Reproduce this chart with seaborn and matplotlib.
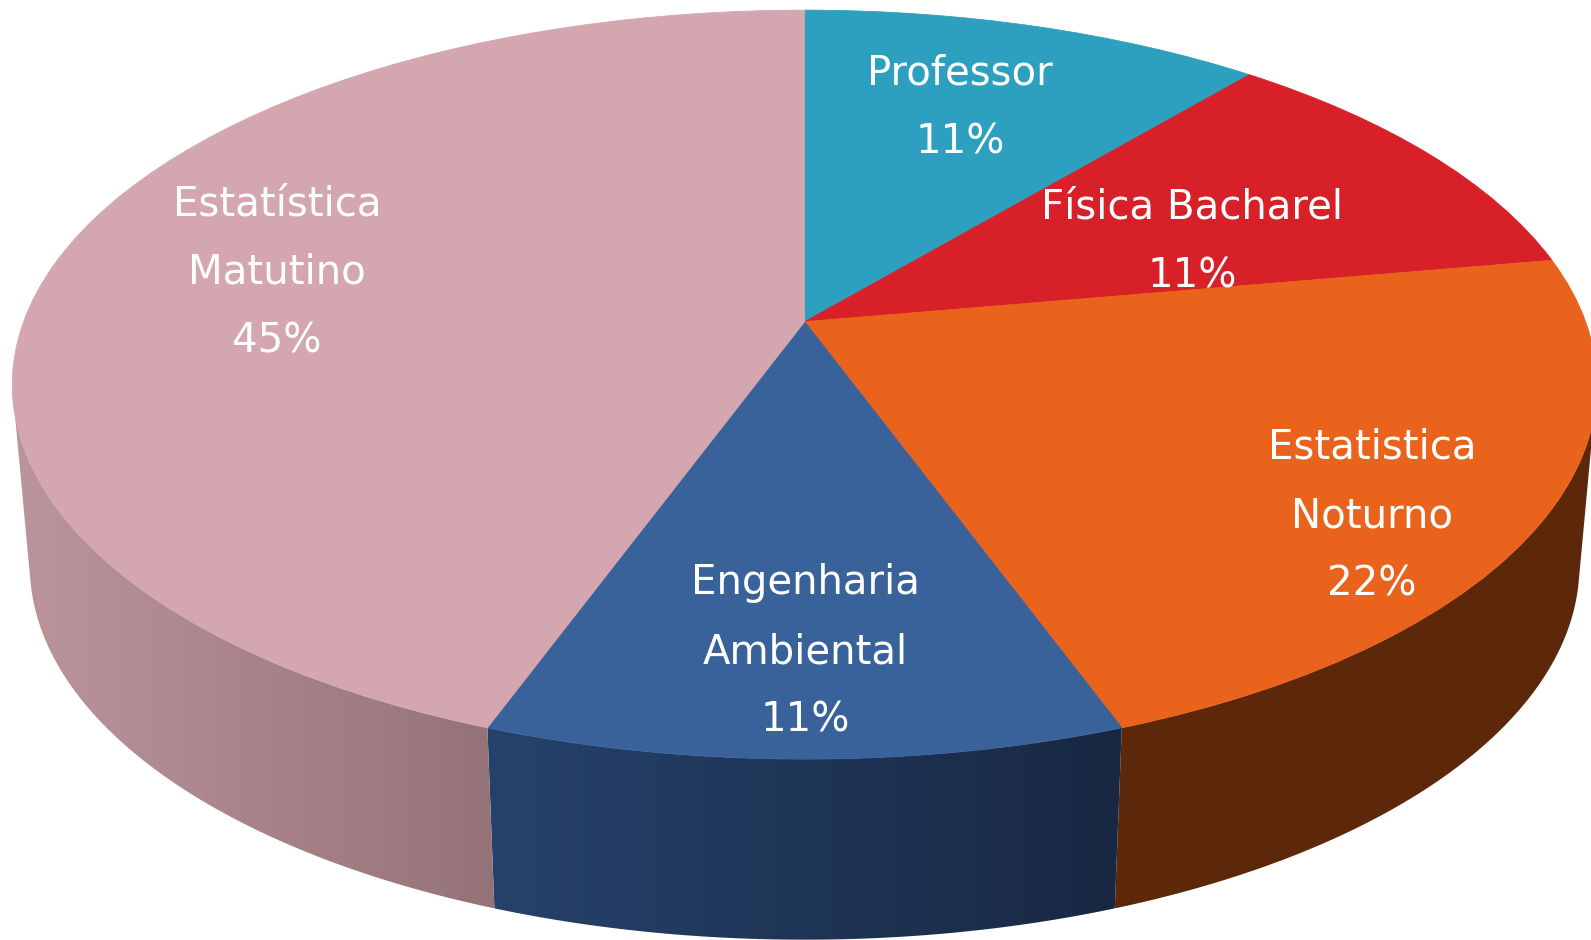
import numpy as np
import matplotlib
matplotlib.use('Agg')
import matplotlib.pyplot as plt
import seaborn as sns
from matplotlib.colors import LinearSegmentedColormap
from matplotlib.patches import Polygon
from matplotlib.transforms import Transform

# Data: head counts behind the printed shares (1/9, 2/9, 4/9)
courses = ['Professor', 'Física Bacharel', 'Estatistica\nNoturno', 'Engenharia\nAmbiental', 'Estatística\nMatutino']
counts = [1, 1, 2, 1, 4]
shares = ['11%', '11%', '22%', '11%', '45%']

top_colors = ['#2DA0BF', '#D82029', '#E9631C', '#39629B', '#D3A6B0']
wall_left = ['#2DA0BF', '#D82029', '#5D280A', '#26426C', '#BC959C']
wall_right = ['#2DA0BF', '#D82029', '#5D280A', '#182842', '#947378']

label_x = [960, 1192, 1372, 805, 277]
label_y = [108, 242, 516, 652, 273]

# Perspective of the disc, in image pixels
W, H = 1591, 940
CX, CY = 804.6, 321.7
A, B, C = 781.0, 363.9, 0.168
DEPTH = 180.6
SHRINK = 0.978
CORNER = 2.5  # degrees of the lower rim hidden behind the straight side edge


def project(xy):
    x, y = xy[:, 0], xy[:, 1]
    d = 1 + C * y
    return np.column_stack([CX + A * x / d, CY - B * y / d])


class DiscTransform(Transform):
    input_dims = output_dims = 2
    is_affine = False

    def transform_non_affine(self, values):
        return project(np.asarray(values, dtype=float))


sns.set_theme(style='white')
fig = plt.figure(figsize=(W / 100, H / 100), dpi=100)
ax = fig.add_axes([0, 0, 1, 1])

wedges, _ = ax.pie(counts, colors=sns.color_palette(top_colors), startangle=90, counterclock=False)
disc = DiscTransform()
for w, col in zip(wedges, top_colors):
    w.set_transform(disc + ax.transData)
    w.set_edgecolor(col)
    w.set_linewidth(0.6)
    w.set_zorder(3)

# Side wall, only the part facing the viewer
limit = np.degrees(np.arccos(-C))  # where the projected circle is widest
for i, w in enumerate(wedges):
    angles = np.linspace(w.theta1, w.theta2, 300)
    clock = (90 - angles) % 360
    keep = (clock >= limit) & (clock <= 360 - limit)
    if not keep.any():
        continue
    edge = project(np.column_stack([np.cos(np.radians(angles[keep])), np.sin(np.radians(angles[keep]))]))
    rim = (clock >= limit + CORNER) & (clock <= 360 - limit - CORNER)
    low = project(np.column_stack([np.cos(np.radians(angles[rim])), np.sin(np.radians(angles[rim]))]))
    low = np.column_stack([CX + SHRINK * (low[:, 0] - CX), low[:, 1] + DEPTH])
    outline = np.vstack([edge, low[::-1]])
    patch = Polygon(outline, closed=True, facecolor='none', edgecolor='none', transform=ax.transData)
    ax.add_patch(patch)
    cmap = LinearSegmentedColormap.from_list('wall%d' % i, [wall_left[i], wall_right[i]])
    im = ax.imshow(np.linspace(0, 1, 256)[None, :], cmap=cmap, aspect='auto', zorder=2, interpolation='bilinear',
                   extent=(outline[:, 0].min(), outline[:, 0].max(), outline[:, 1].max(), outline[:, 1].min()))
    im.set_clip_path(patch)

for name, share, x, y in zip(courses, shares, label_x, label_y):
    ax.text(x, y, name + '\n' + share, color='white', fontsize=29, ha='center', va='center',
            linespacing=1.92, zorder=5, family='DejaVu Sans')

ax.set_xlim(0, W)
ax.set_ylim(H, 0)
ax.set_aspect('auto')
ax.axis('off')
fig.savefig('out.png', dpi=100, facecolor='white')
